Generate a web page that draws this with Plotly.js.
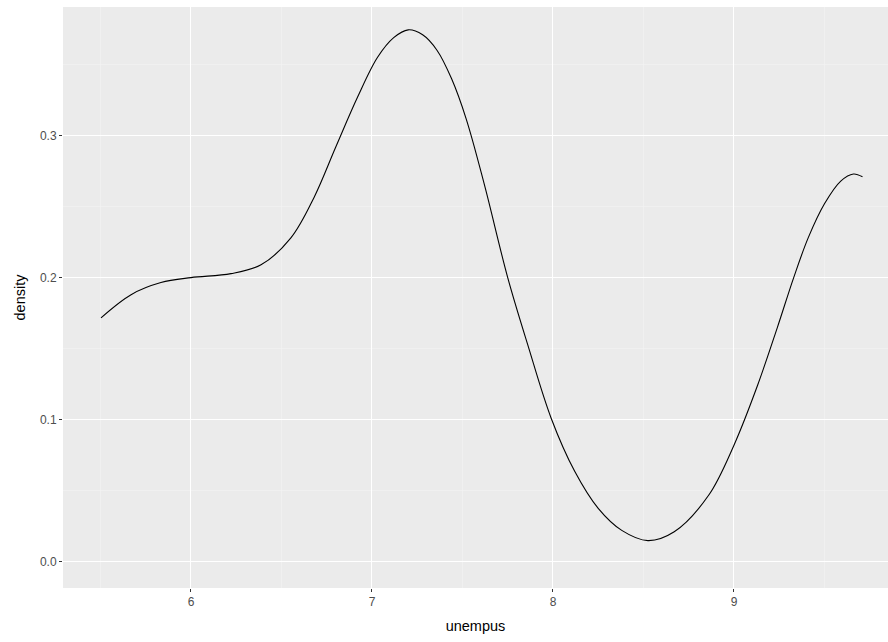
<!DOCTYPE html>
<html>
<head>
<meta charset="utf-8">
<script src="https://cdn.plot.ly/plotly-3.0.1.min.js"></script>
<style>html,body{margin:0;padding:0;background:#fff;}#chart{width:888px;height:642px;}</style>
</head>
<body>
<div id="chart"></div>
<script>
// Density estimate of unempus
const unempus = [5.503, 5.669, 5.834, 6.000, 6.221, 6.387, 6.552, 6.680, 6.800, 6.920, 7.030, 7.120, 7.200, 7.280, 7.360, 7.440, 7.520, 7.620, 7.750, 7.860, 7.990, 8.120, 8.250, 8.380, 8.525, 8.670, 8.860, 9.000, 9.130, 9.240, 9.330, 9.410, 9.500, 9.590, 9.660, 9.710];
const density = [0.1717, 0.188, 0.1965, 0.200, 0.2028, 0.209, 0.228, 0.2565, 0.292, 0.327, 0.355, 0.369, 0.3745, 0.371, 0.360, 0.340, 0.312, 0.266, 0.200, 0.153, 0.101, 0.0636, 0.0375, 0.022, 0.0148, 0.021, 0.0467, 0.082, 0.124, 0.165, 0.200, 0.228, 0.252, 0.268, 0.273, 0.271];
const xTicks = [6, 7, 8, 9];
const xTickLabels = ["6", "7", "8", "9"];
const yTicks = [0.0, 0.1, 0.2, 0.3];
const yTickLabels = ["0.0", "0.1", "0.2", "0.3"];

const trace = {
  x: unempus,
  y: density,
  type: 'scatter',
  mode: 'lines',
  line: {color: '#000000', width: 1.1, shape: 'spline', smoothing: 1},
  hoverinfo: 'skip'
};

const font = 'Liberation Sans, Arial, sans-serif';
const layout = {
  width: 888,
  height: 642,
  margin: {l: 63, r: 0, t: 7, b: 54, pad: 0},
  paper_bgcolor: '#FFFFFF',
  plot_bgcolor: '#EBEBEB',
  showlegend: false,
  xaxis: {
    range: [5.293, 9.851],
    tickmode: 'array',
    tickvals: xTicks,
    ticktext: xTickLabels,
    ticks: 'outside',
    ticklen: 3,
    tickwidth: 1,
    tickcolor: '#333333',
    tickfont: {family: font, size: 12, color: '#4D4D4D'},
    showgrid: true,
    gridcolor: '#FFFFFF',
    gridwidth: 1,
    minor: {dtick: 0.5, tick0: 5.5, showgrid: true, gridcolor: '#F4F4F4', gridwidth: 0.6, ticks: ''},
    zeroline: false,
    showline: false,
    title: {text: 'unempus', font: {family: font, size: 14.5, color: '#000000'}, standoff: 12}
  },
  yaxis: {
    range: [-0.0186, 0.3906],
    tickmode: 'array',
    tickvals: yTicks,
    ticktext: yTickLabels,
    ticks: 'outside',
    ticklen: 3,
    tickwidth: 1,
    tickcolor: '#333333',
    tickfont: {family: font, size: 12, color: '#4D4D4D'},
    showgrid: true,
    gridcolor: '#FFFFFF',
    gridwidth: 1,
    minor: {dtick: 0.05, tick0: 0.05, showgrid: true, gridcolor: '#F4F4F4', gridwidth: 0.6, ticks: ''},
    zeroline: false,
    showline: false,
    title: {text: 'density', font: {family: font, size: 14.5, color: '#000000'}, standoff: 10}
  }
};

Plotly.newPlot('chart', [trace], layout, {staticPlot: true, displayModeBar: false});
</script>
</body>
</html>
